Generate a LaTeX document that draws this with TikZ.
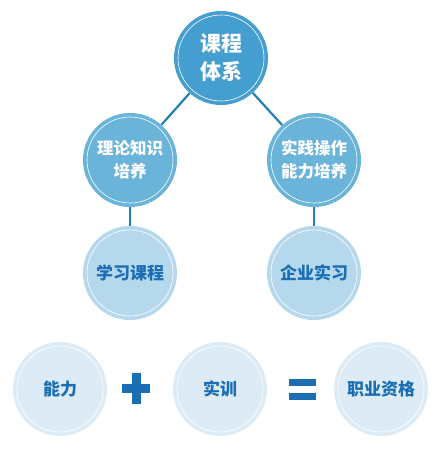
\documentclass[tikz,border=0pt]{standalone}
\usepackage{fontspec}
\newfontfamily\cjk{Noto Sans CJK SC}[BoldFont={Noto Sans CJK SC Black}]
\definecolor{topblue}{HTML}{449ED0}
\definecolor{midblue}{HTML}{6AB4DA}
\definecolor{lowblue}{HTML}{B5D8ED}
\definecolor{paleblue}{HTML}{DCEBF6}
\definecolor{linkblue}{HTML}{2380B5}
\definecolor{textblue}{HTML}{1A6EB3}
\tikzset{
  ball/.style={circle,minimum size=94pt,inner sep=0pt,align=center,
    font=\cjk\bfseries,
    path picture={\draw[white,line width=0.6pt] (path picture bounding box.center) circle (43pt);}},
  link/.style={linkblue,line width=2.2pt},
  sign/.style={fill=textblue}
}
\begin{document}
\begin{tikzpicture}[y=-1pt,x=1pt]
    \useasboundingbox (0,0) rectangle (441,450);
    % tree
    \node[ball,fill=topblue,text=white,font=\cjk\bfseries\fontsize{21}{28}\selectfont] (course) at (221,58) {课程\\体系};
    \node[ball,fill=midblue,text=white,font=\cjk\bfseries\fontsize{16.5}{23}\selectfont] (theory) at (130,160) {理论知识\\培养};
    \node[ball,fill=midblue,text=white,font=\cjk\bfseries\fontsize{16.5}{23}\selectfont] (practice) at (314,160) {实践操作\\能力培养};
    \node[ball,fill=lowblue,text=textblue,font=\cjk\bfseries\fontsize{17}{22}\selectfont] (study) at (130,273) {学习课程};
    \node[ball,fill=lowblue,text=textblue,font=\cjk\bfseries\fontsize{17}{22}\selectfont] (intern) at (314,273) {企业实习};

    \draw[link] (course) -- (theory);
    \draw[link] (course) -- (practice);
    \draw[link] (theory) -- (study);
    \draw[link] (practice) -- (intern);

    % formula
    \node[ball,fill=paleblue,text=textblue,font=\cjk\bfseries\fontsize{17}{22}\selectfont] (ability) at (60,389) {能力};
    \node[ball,fill=paleblue,text=textblue,font=\cjk\bfseries\fontsize{17}{22}\selectfont] (training) at (220,389) {实训};
    \node[ball,fill=paleblue,text=textblue,font=\cjk\bfseries\fontsize{17}{22}\selectfont] (career) at (381,389) {职业资格};

    \fill[sign] (122,384) rectangle (150,393);
    \fill[sign] (132,373) rectangle (141,404);
    \fill[sign] (289,379) rectangle (316,385.5);
    \fill[sign] (289,393) rectangle (316,399.5);
\end{tikzpicture}
\end{document}
